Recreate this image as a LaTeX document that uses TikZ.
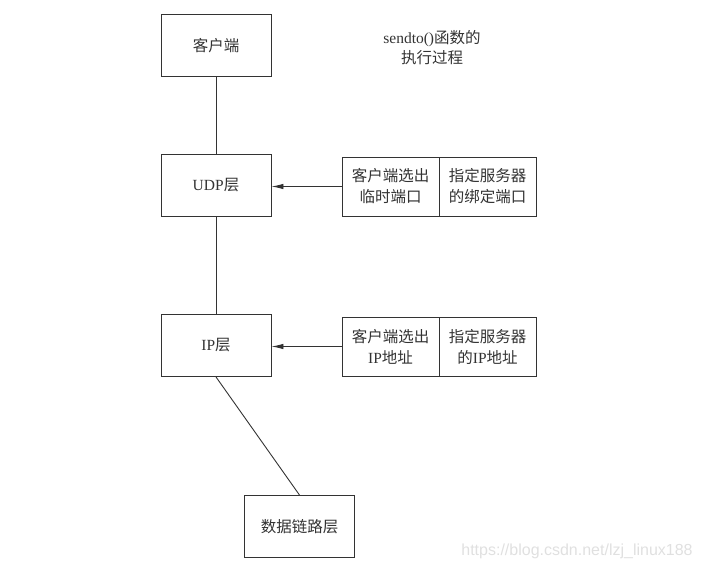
\documentclass[tikz,border=0pt]{standalone}
\usepackage{fontspec}
\setmainfont{Liberation Serif}
\newfontfamily\cjk{Noto Sans CJK SC}
\newfontfamily\wmfont{Liberation Sans}
\usetikzlibrary{arrows.meta}
\definecolor{ink}{HTML}{333333}
\tikzset{
  layerbox/.style={draw=ink, line width=0.9pt, rectangle, minimum width=110pt, minimum height=62pt, inner sep=0pt, text=ink, font=\fontsize{15.5}{21}\selectfont},
  infobox/.style={draw=ink, line width=0.9pt, rectangle, minimum width=97pt, minimum height=59pt, inner sep=0pt, text=ink, align=center, font=\fontsize{15.5}{21}\selectfont},
  link/.style={draw=ink, line width=0.9pt},
  arrowlink/.style={draw=ink, line width=0.9pt, -{Latex[length=12pt,width=5.5pt]}},
  caption/.style={text=ink, align=center, font=\fontsize{15.5}{20}\selectfont}
}
\begin{document}
\begin{tikzpicture}[x=1pt,y=-1pt]
\useasboundingbox (0,0) rectangle (702,572);
\node[layerbox] (khd) at (216,45.5) {\cjk 客户端};
\node[layerbox] (udp) at (216,185) {UDP{\cjk 层}};
\node[layerbox] (ip) at (216,345.5) {IP{\cjk 层}};
\node[layerbox] (dl) at (299.5,526.5) {\cjk 数据链路层};
\node[infobox] (ua) at (390.5,186.5) {{\cjk 客户端选出}\\{\cjk 临时端口}};
\node[infobox] (ub) at (487.5,186.5) {{\cjk 指定服务器}\\{\cjk 的绑定端口}};
\node[infobox] (ia) at (390.5,346.5) {{\cjk 客户端选出}\\IP{\cjk 地址}};
\node[infobox] (ib) at (487.5,346.5) {{\cjk 指定服务器}\\{\cjk 的}IP{\cjk 地址}};
\node[caption] (cap) at (432,48) {sendto(){\cjk 函数的}\\{\cjk 执行过程}};
\node[text=black!12, font=\wmfont\fontsize{16}{18}\selectfont] (wm) at (577,551) {https://blog.csdn.net/lzj\_linux188};
\draw[link] (khd) -- (udp);
\draw[link] (udp) -- (ip);
\draw[link] (ip.south) -- (dl.north);
\draw[arrowlink] (ua.west) -- (ua.west -| udp.east);
\draw[arrowlink] (ia.west) -- (ia.west -| ip.east);
\end{tikzpicture}
\end{document}
